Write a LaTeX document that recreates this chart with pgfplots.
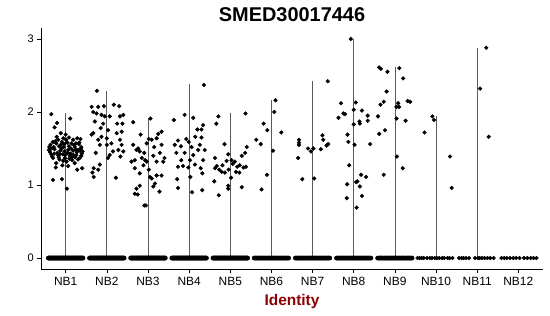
\documentclass[border=0pt]{standalone}
\usepackage{pgfplots}
\pgfplotsset{compat=1.18}
\usepackage{pgfplotstable}
\usepackage{fontspec}
\setmainfont{Liberation Sans}
\definecolor{idred}{RGB}{139,0,0}
\definecolor{vln}{RGB}{90,90,90}

\pgfplotstableread{
y a b c d e f g h i
0 0.58 1.58 2.58 3.58 4.58 5.58 6.58 7.58 8.58
0 0.60 1.60 2.60 3.60 4.60 5.62 6.62 7.62 8.62
0 0.62 1.62 2.62 3.62 4.62 5.66 6.66 7.66 8.66
0 0.64 1.64 2.64 3.64 4.64 5.70 6.70 7.70 8.70
0 0.66 1.66 2.66 3.66 4.66 5.74 6.74 7.74 8.74
0 0.68 1.68 2.68 3.68 4.68 5.78 6.78 7.78 8.78
0 0.70 1.70 2.70 3.70 4.70 5.82 6.82 7.82 8.82
0 0.72 1.72 2.72 3.72 4.72 5.86 6.86 7.86 8.86
0 0.74 1.74 2.74 3.74 4.74 5.90 6.90 7.90 8.90
0 0.76 1.76 2.76 3.76 4.76 5.94 6.94 7.94 8.94
0 0.78 1.78 2.78 3.78 4.78 5.98 6.98 7.98 8.98
0 0.80 1.80 2.80 3.80 4.80 6.02 7.02 8.02 9.02
0 0.82 1.82 2.82 3.82 4.82 6.06 7.06 8.06 9.06
0 0.84 1.84 2.84 3.84 4.84 6.10 7.10 8.10 9.10
0 0.86 1.86 2.86 3.86 4.86 6.14 7.14 8.14 9.14
0 0.88 1.88 2.88 3.88 4.88 6.18 7.18 8.18 9.18
0 0.90 1.90 2.90 3.90 4.90 6.22 7.22 8.22 9.22
0 0.92 1.92 2.92 3.92 4.92 6.26 7.26 8.26 9.26
0 0.94 1.94 2.94 3.94 4.94 6.30 7.30 8.30 9.30
0 0.96 1.96 2.96 3.96 4.96 6.34 7.34 8.34 9.34
0 0.98 1.98 2.98 3.98 4.98 6.38 7.38 8.38 9.38
0 1.00 2.00 3.00 4.00 5.00 6.42 7.42 8.42 9.42
0 1.02 2.02 3.02 4.02 5.02 5.60 6.60 7.60 8.60
0 1.04 2.04 3.04 4.04 5.04 5.64 6.64 7.64 8.64
0 1.06 2.06 3.06 4.06 5.06 5.68 6.68 7.68 8.68
0 1.08 2.08 3.08 4.08 5.08 5.72 6.72 7.72 8.72
0 1.10 2.10 3.10 4.10 5.10 5.76 6.76 7.76 8.76
0 1.12 2.12 3.12 4.12 5.12 5.80 6.80 7.80 8.80
0 1.14 2.14 3.14 4.14 5.14 5.84 6.84 7.84 8.84
0 1.16 2.16 3.16 4.16 5.16 5.88 6.88 7.88 8.88
0 1.18 2.18 3.18 4.18 5.18 5.92 6.92 7.92 8.92
0 1.20 2.20 3.20 4.20 5.20 5.96 6.96 7.96 8.96
0 1.22 2.22 3.22 4.22 5.22 6.00 7.00 8.00 9.00
0 1.24 2.24 3.24 4.24 5.24 6.04 7.04 8.04 9.04
0 1.26 2.26 3.26 4.26 5.26 6.08 7.08 8.08 9.08
0 1.28 2.28 3.28 4.28 5.28 6.12 7.12 8.12 9.12
0 1.30 2.30 3.30 4.30 5.30 6.16 7.16 8.16 9.16
0 1.32 2.32 3.32 4.32 5.32 6.20 7.20 8.20 9.20
0 1.34 2.34 3.34 4.34 5.34 6.24 7.24 8.24 9.24
0 1.36 2.36 3.36 4.36 5.36 6.28 7.28 8.28 9.28
0 1.38 2.38 3.38 4.38 5.38 6.32 7.32 8.32 9.32
0 1.40 2.40 3.40 4.40 5.40 6.36 7.36 8.36 9.36
0 1.42 2.42 3.42 4.42 5.42 6.40 7.40 8.40 9.40
}\zeros

\begin{document}
\begin{tikzpicture}
\begin{axis}[
  name=ax,
  width=502bp, height=241bp, scale only axis,
  xmin=0.4, xmax=12.6, ymin=-0.15, ymax=3.15,
  xtick={1,2,3,4,5,6,7,8,9,10,11,12},
  xticklabels={NB1,NB2,NB3,NB4,NB5,NB6,NB7,NB8,NB9,NB10,NB11,NB12},
  ytick={0,1,2,3},
  axis lines=left,
  axis line style={-, black, line width=0.9bp},
  tick align=outside,
  major tick length=4bp,
  tick style={black, line width=0.6bp},
  /pgf/number format/assume math mode=true,
  xticklabel style={font=\fontsize{12}{12}\selectfont, anchor=base, inner sep=0pt, yshift=-12bp},
  yticklabel style={font=\fontsize{11}{11}\selectfont, anchor=east, inner sep=0pt, xshift=-3bp},
  title={SMED30017446},
  title style={at={(axis description cs:0.5,1)}, anchor=base, inner sep=0pt, yshift=0.5bp, font=\bfseries\fontsize{20}{20}\selectfont},
  xlabel={Identity},
  xlabel style={at={(axis description cs:0.5,0)}, anchor=base, inner sep=0pt, yshift=-36bp, font=\bfseries\fontsize{15.5}{15.5}\selectfont, text=idred},
  clip=false,
]
% violin outlines (very narrow violins)
\addplot[vln, line width=0.7bp] coordinates {(1,0)(1,1.98)};
\addplot[vln, line width=0.7bp] coordinates {(2,0)(2,2.29)};
\addplot[vln, line width=0.7bp] coordinates {(3,0)(3,1.92)};
\addplot[vln, line width=0.7bp] coordinates {(4,0)(4,2.38)};
\addplot[vln, line width=0.7bp] coordinates {(5,0)(5,1.99)};
\addplot[vln, line width=0.7bp] coordinates {(6,0)(6,2.16)};
\addplot[vln, line width=0.7bp] coordinates {(7,0)(7,2.42)};
\addplot[vln, line width=0.7bp] coordinates {(8,0)(8,3.00)};
\addplot[vln, line width=0.7bp] coordinates {(9,0)(9,2.62)};
\addplot[vln, line width=0.7bp] coordinates {(10,0)(10,1.95)};
\addplot[vln, line width=0.7bp] coordinates {(11,0)(11,2.88)};

% zero-valued cells
\pgfplotsset{pts/.style={only marks, mark=*, mark size=1.9bp, black}}
\addplot[pts, mark size=2.2bp] table[x=a, y=y] {\zeros};
\addplot[pts, mark size=2.2bp] table[x=b, y=y] {\zeros};
\addplot[pts, mark size=2.2bp] table[x=c, y=y] {\zeros};
\addplot[pts, mark size=2.2bp] table[x=d, y=y] {\zeros};
\addplot[pts, mark size=2.2bp] table[x=e, y=y] {\zeros};
\addplot[pts, mark size=2.1bp] table[x=f, y=y] {\zeros};
\addplot[pts, mark size=2.1bp] table[x=g, y=y] {\zeros};
\addplot[pts, mark size=2.1bp] table[x=h, y=y] {\zeros};
\addplot[pts, mark size=2.1bp] table[x=i, y=y] {\zeros};
\addplot[pts] coordinates {(9.55,0)(9.60,0)(9.65,0)(9.70,0)(9.78,0)(9.85,0)(9.90,0)(9.97,0)(10.02,0)(10.08,0)(10.15,0)(10.20,0)(10.28,0)(10.33,0)(10.40,0)};
\addplot[pts] coordinates {(10.56,0)(10.62,0)(10.67,0)(10.73,0)(10.80,0)(10.95,0)(11.02,0)(11.06,0)(11.12,0)(11.18,0)(11.25,0)(11.32,0)(11.40,0)};
\addplot[pts] coordinates {(11.59,0)(11.66,0)(11.72,0)(11.80,0)(11.88,0)(11.95,0)(12.03,0)(12.14,0)(12.22,0)(12.30,0)(12.37,0)(12.44,0)};

% NB1
\addplot[pts] coordinates {
(0.65,1.97)(1.11,1.91)(0.79,1.85)(0.73,1.79)(0.88,1.71)(1.00,1.69)(1.08,1.65)(1.28,1.64)(1.36,1.63)(0.69,1.59)
(0.77,1.57)(0.91,1.59)(1.14,1.57)(1.33,1.58)(0.63,1.55)(0.84,1.53)(0.95,1.52)(1.22,1.52)(1.38,1.52)(0.59,1.48)
(0.73,1.49)(0.87,1.47)(1.06,1.48)(1.18,1.47)(1.30,1.48)(0.65,1.42)(0.81,1.41)(0.93,1.42)(1.10,1.40)(1.26,1.41)
(1.38,1.40)(0.69,1.37)(0.85,1.35)(0.98,1.37)(1.16,1.34)(1.34,1.37)(0.77,1.30)(0.92,1.27)(1.02,1.32)(1.22,1.30)
(0.76,1.24)(1.06,1.26)(1.28,1.21)(1.40,1.23)(0.69,1.07)(0.91,1.08)(1.03,0.95)
(0.62,1.45)(0.71,1.52)(0.80,1.44)(0.88,1.55)(0.97,1.46)(1.04,1.58)(1.12,1.43)(1.20,1.55)(1.27,1.45)(1.35,1.47)
(0.67,1.39)(0.75,1.60)(0.83,1.38)(0.90,1.50)(0.99,1.41)(1.08,1.53)(1.15,1.38)(1.24,1.49)(1.32,1.56)(1.39,1.43)
(0.94,1.33)(1.01,1.62)(0.78,1.66)(1.18,1.62)(1.30,1.35)
(0.60,1.52)(0.66,1.50)(0.72,1.43)(0.86,1.42)(0.96,1.56)(1.05,1.44)(1.13,1.50)(1.19,1.41)(1.25,1.57)(1.37,1.50)
(0.82,1.62)(0.94,1.64)(1.09,1.36)(1.23,1.38)(1.41,1.46)};
% NB2
\addplot[pts] coordinates {
(1.76,2.29)(1.63,2.07)(1.67,2.00)(1.79,2.07)(1.93,2.08)(2.17,2.10)(2.30,2.08)(2.40,1.96)(1.75,1.98)(1.87,1.96)
(1.95,1.94)(2.07,1.94)(2.32,1.94)(1.71,1.87)(1.91,1.84)(2.25,1.84)(2.38,1.84)(1.85,1.78)(1.67,1.71)(2.03,1.75)
(2.24,1.71)(2.36,1.73)(1.63,1.69)(1.79,1.62)(2.00,1.64)(2.32,1.62)(1.83,1.55)(2.36,1.55)(2.15,1.46)(2.28,1.48)
(2.40,1.46)(1.73,1.44)(2.07,1.41)(2.03,1.37)(2.33,1.39)(1.83,1.28)(1.68,1.23)(1.65,1.17)(1.79,1.21)(1.68,1.11)
(2.22,1.10)(2.00,1.55)(2.11,1.57)(1.87,1.66)};
% NB3
\addplot[pts] coordinates {
(2.64,1.86)(3.06,1.91)(2.82,1.69)(3.25,1.70)(3.33,1.73)(3.02,1.63)(3.21,1.64)(2.64,1.55)(2.72,1.48)(2.80,1.46)
(2.91,1.44)(2.97,1.57)(3.09,1.62)(3.29,1.44)(3.40,1.37)(2.60,1.32)(2.68,1.34)(2.85,1.37)(2.93,1.34)(2.97,1.32)
(3.13,1.40)(3.21,1.32)(3.37,1.32)(2.68,1.23)(2.80,1.16)(3.02,1.21)(3.09,1.09)(3.21,1.13)(3.33,1.13)(2.80,0.99)
(2.72,0.95)(2.68,0.88)(2.75,0.87)(3.17,1.02)(3.13,0.98)(3.28,0.91)(2.91,0.72)(2.95,0.72)(2.76,1.50)(2.89,1.27)
(3.15,1.52)(3.05,1.11)(3.33,1.55)};
% NB4
\addplot[pts] coordinates {
(4.36,2.37)(3.89,1.96)(4.10,1.92)(3.63,1.89)(4.34,1.82)(4.20,1.76)(4.30,1.76)(3.73,1.61)(3.93,1.63)(3.99,1.59)
(4.15,1.66)(4.30,1.65)(3.65,1.55)(3.80,1.53)(4.06,1.52)(4.26,1.55)(4.38,1.48)(3.69,1.44)(3.89,1.44)(4.10,1.41)
(4.02,1.34)(4.34,1.34)(3.73,1.25)(3.85,1.26)(3.98,1.24)(4.14,1.28)(4.28,1.23)(4.03,1.11)(3.71,1.08)(4.32,1.16)
(3.73,0.96)(4.32,0.93)(4.07,0.90)(4.22,1.48)(3.81,1.34)};
% NB5
\addplot[pts] coordinates {
(4.71,1.94)(5.37,1.98)(4.66,1.84)(4.86,1.56)(5.40,1.52)(5.36,1.44)(4.95,1.42)(5.28,1.40)(4.63,1.37)(4.91,1.33)
(5.03,1.34)(5.11,1.32)(5.23,1.27)(5.32,1.24)(5.38,1.25)(4.67,1.26)(4.81,1.27)(4.73,1.21)(4.87,1.17)(4.96,1.21)
(5.14,1.18)(5.22,1.17)(4.79,1.18)(4.63,1.23)(5.02,1.10)(4.61,1.05)(4.95,0.99)(4.95,0.95)(5.28,0.97)(4.72,0.86)
(5.06,1.29)(5.17,1.25)};
% NB6
\addplot[pts] coordinates {
(6.10,2.16)(6.07,2.00)(5.81,1.84)(5.90,1.75)(6.24,1.72)(5.63,1.62)(5.74,1.56)(6.04,1.47)(5.89,1.14)(5.76,0.94)};
% NB7
\addplot[pts] coordinates {
(7.37,2.42)(6.67,1.62)(6.67,1.58)(6.67,1.55)(6.65,1.37)(6.89,1.50)(6.96,1.46)(7.02,1.50)(7.20,1.49)(7.24,1.68)
(7.26,1.62)(7.34,1.54)(7.38,1.56)(6.75,1.08)(7.04,1.09)};
% NB8
\addplot[pts] coordinates {
(7.93,3.00)(7.69,2.12)(8.05,2.13)(7.75,1.98)(7.79,1.97)(7.63,1.92)(8.00,2.03)(8.20,2.02)(8.34,1.95)(8.34,1.88)
(8.14,1.87)(8.15,1.84)(8.00,1.83)(7.85,1.69)(7.87,1.59)(8.02,1.55)(8.40,1.56)(7.89,1.27)(8.18,1.14)(8.30,1.11)
(8.09,1.05)(8.06,1.04)(7.84,1.01)(8.15,0.98)(8.20,0.85)(7.83,0.82)(8.07,0.69)};
% NB9
\addplot[pts] coordinates {
(8.62,2.61)(8.66,2.59)(8.82,2.55)(9.11,2.60)(9.20,2.46)(8.80,2.28)(8.65,2.10)(8.73,2.14)(9.08,2.12)(9.10,2.07)
(9.04,2.07)(9.31,2.15)(9.37,2.14)(8.59,1.94)(9.04,1.91)(9.26,1.88)(8.62,1.70)(8.76,1.75)(9.05,1.39)(9.19,1.23)
(8.73,1.14)};
% NB10
\addplot[pts] coordinates {(9.91,1.94)(9.95,1.89)(9.72,1.72)(10.34,1.39)(10.38,0.96)};
% NB11
\addplot[pts] coordinates {(11.22,2.88)(11.07,2.32)(11.28,1.66)};
\end{axis}
\pgfresetboundingbox
\useasboundingbox ([xshift=-41bp, yshift=-47bp]ax.south west) rectangle ([xshift=7bp, yshift=28bp]ax.north east);
\end{tikzpicture}
\end{document}
